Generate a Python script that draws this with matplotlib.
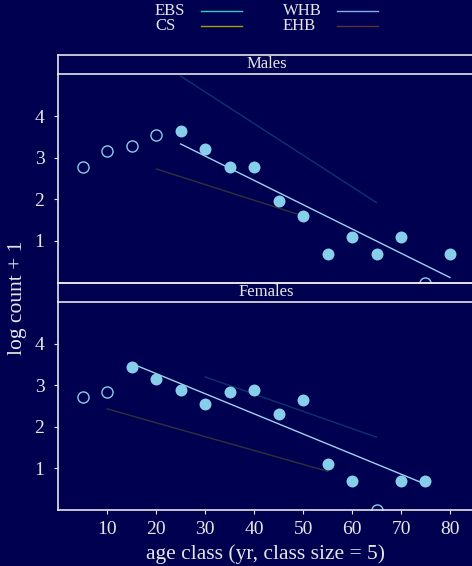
import matplotlib
matplotlib.use("Agg")
import matplotlib.pyplot as plt
from matplotlib.lines import Line2D

# ---------------- data ----------------
male_open_age = [5, 10, 15, 20, 75]
male_open_val = [2.77, 3.15, 3.27, 3.54, 0.0]
male_fill_age = [25, 30, 35, 40, 45, 50, 55, 60, 65, 70, 80]
male_fill_val = [3.64, 3.22, 2.77, 2.77, 1.95, 1.61, 0.69, 1.10, 0.69, 1.10, 0.69]

female_open_age = [5, 10, 65]
female_open_val = [2.71, 2.83, 0.0]
female_fill_age = [15, 20, 25, 30, 35, 40, 45, 50, 55, 60, 70, 75]
female_fill_val = [3.43, 3.14, 2.89, 2.56, 2.83, 2.89, 2.30, 2.64, 1.10, 0.69, 0.69, 0.69]

# fitted lines: (x ends, y ends)
male_fit_x, male_fit_y = [25, 80], [3.33, 0.12]
male_ebs_x, male_ebs_y = [25, 65], [4.96, 1.92]
male_cs_x, male_cs_y = [20, 50], [2.73, 1.60]
female_fit_x, female_fit_y = [15, 75], [3.52, 0.62]
female_ebs_x, female_ebs_y = [30, 65], [3.20, 1.75]
female_cs_x, female_cs_y = [10, 55], [2.43, 0.93]

legend_labels = ["EBS", "CS", "WHB", "EHB"]
legend_colors = ["#30d0c0", "#a8a000", "#80b0f0", "#603030"]

x_ticks = [10, 20, 30, 40, 50, 60, 70, 80]
y_ticks = [1, 2, 3, 4]

# ---------------- style ----------------
BG = "#000050"
FG = "#e6e6e6"
PT = "#87ceeb"
plt.rcParams["font.family"] = ["Liberation Serif", "DejaVu Serif"]

W, H = 472, 566
fig = plt.figure(figsize=(W / 100, H / 100), dpi=100, facecolor=BG)


def fx(px):
    return px / W


def fy(py):
    return 1 - py / H


def hline(py):
    fig.add_artist(Line2D([fx(58.3), 1.0], [fy(py), fy(py)], color=FG, lw=1.2,
                          transform=fig.transFigure, zorder=20))


def panel(top_strip, strip_bot, data_bot, title, oa, ov, fa, fv, fits, show_x):
    # data
    ax = fig.add_axes([fx(58.3), fy(data_bot), 1.2 - fx(58.3), (data_bot - strip_bot) / H])
    ax.set_facecolor(BG)
    xr = (W * 1.2 - 58.3) / 4.896
    ax.set_xlim(0, xr)
    ax.set_ylim(0, (data_bot - strip_bot) / 41.6)
    for s in ["top", "right"]:
        ax.spines[s].set_visible(False)
    for s in ["left", "bottom"]:
        ax.spines[s].set_color(FG); ax.spines[s].set_linewidth(1.2)
    ax.set_yticks(y_ticks)
    ax.tick_params(axis="y", colors=FG, labelcolor=FG, labelsize=14, length=3, width=0.8,
                   direction="out", pad=7)
    if show_x:
        ax.set_xticks(x_ticks)
        ax.tick_params(axis="x", colors=FG, labelcolor=FG, labelsize=14, length=3, width=0.8,
                       direction="out", pad=5)
    else:
        ax.set_xticks([])
    (ebs_x, ebs_y), (cs_x, cs_y), (fit_x, fit_y) = fits
    ax.plot(ebs_x, ebs_y, color=legend_colors[0], alpha=0.25, lw=1.0)
    ax.plot(cs_x, cs_y, color=legend_colors[1], alpha=0.3, lw=1.0)
    ax.plot(fit_x, fit_y, color="#9cd2f0", lw=1.0)
    ax.plot(fa, fv, "o", ms=8.6, color=PT, mec=PT, mew=0, clip_on=True)
    ax.plot(oa, ov, "o", ms=8.0, mfc="none", mec=PT, mew=1.0, clip_on=True)

    # strip borders and title
    hline(top_strip)
    hline(strip_bot)
    fig.add_artist(Line2D([fx(58.3), fx(58.3)], [fy(top_strip), fy(strip_bot)], color=FG,
                          lw=1.2, transform=fig.transFigure, zorder=20))
    fig.text(fx(266.5), fy((top_strip + strip_bot) / 2), title,
             color=FG, fontsize=12, ha="center", va="center", zorder=10)
    return ax


ax1 = panel(54.7, 74.3, 282.5, "Males", male_open_age, male_open_val, male_fill_age, male_fill_val,
            [(male_ebs_x, male_ebs_y), (male_cs_x, male_cs_y), (male_fit_x, male_fit_y)], False)
ax2 = panel(282.5, 302.3, 510, "Females", female_open_age, female_open_val, female_fill_age,
            female_fill_val,
            [(female_ebs_x, female_ebs_y), (female_cs_x, female_cs_y), (female_fit_x, female_fit_y)],
            True)

fig.text(fx(266), fy(554), "age class (yr, class size = 5)", color=FG, fontsize=15.5,
         ha="center", va="center")
fig.text(fx(18), fy(298), "log count + 1", color=FG, fontsize=15.5, rotation=90,
         ha="center", va="center")

# legend
pos = [(155, 11, 201, 242), (155, 26, 201, 242), (283, 11, 337, 378), (283, 26, 337, 378)]
for lab, col, (tx, ty, lx0, lx1) in zip(legend_labels, legend_colors, pos):
    fig.text(fx(tx), fy(ty), lab, color=FG, fontsize=12, ha="left", va="center")
    fig.add_artist(Line2D([fx(lx0), fx(lx1)], [fy(ty), fy(ty)], color=col, lw=1.0,
                          transform=fig.transFigure))

fig.savefig("out.png", dpi=100, facecolor=BG)
